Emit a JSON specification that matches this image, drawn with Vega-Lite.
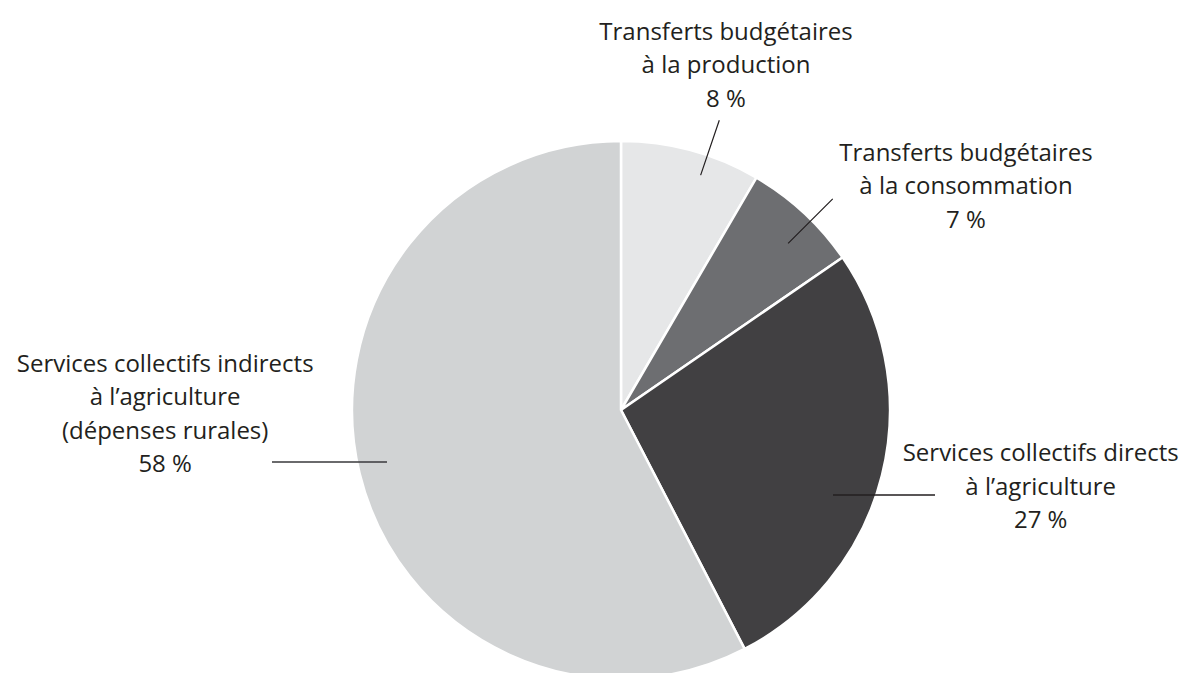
{
  "$schema": "https://vega.github.io/schema/vega-lite/v6.json",
  "width": 1134,
  "height": 526,
  "padding": {"left": 54, "top": 147, "right": 0, "bottom": 0},
  "autosize": {"type": "none"},
  "background": "white",
  "config": {"view": {"stroke": null}},
  "data": {
    "values": [
      {"code": "prod", "categorie": "Transferts budgétaires à la production", "label": "Transferts budgétaires\nà la production\n8 %", "value": 8.4},
      {"code": "conso", "categorie": "Transferts budgétaires à la consommation", "label": "Transferts budgétaires\nà la consommation\n7 %", "value": 7.0},
      {"code": "directs", "categorie": "Services collectifs directs à l’agriculture", "label": "Services collectifs directs\nà l’agriculture\n27 %", "value": 27.0},
      {"code": "indirects", "categorie": "Services collectifs indirects à l’agriculture (dépenses rurales)", "label": "Services collectifs indirects\nà l’agriculture\n(dépenses rurales)\n58 %", "value": 57.6}
    ]
  },
  "transform": [{"stack": "value", "groupby": [], "as": ["start", "end"]}],
  "layer": [
    {
      "mark": {"type": "arc", "outerRadius": 269, "stroke": "white", "strokeWidth": 2.5},
      "encoding": {
        "theta": {"field": "start", "type": "quantitative", "scale": {"domain": [0, 100]}},
        "theta2": {"field": "end"},
        "color": {
          "field": "code", "type": "nominal", "legend": null,
          "scale": {"domain": ["prod", "conso", "directs", "indirects"], "range": ["#e6e7e8", "#6d6e71", "#414042", "#d1d3d4"]}
        }
      }
    },
    {
      "transform": [{"filter": {"field": "code", "equal": "prod"}}],
      "mark": {"type": "arc", "filled": false, "stroke": "#231f20", "strokeWidth": 1.2, "innerRadius": 248, "outerRadius": 306, "thetaOffset": 0.327, "theta2Offset": 0.327},
      "encoding": {
        "theta": {"field": "start", "type": "quantitative", "scale": {"domain": [0, 100]}},
        "theta2": {"field": "start"}
      }
    },
    {
      "transform": [{"filter": {"field": "code", "equal": "conso"}}],
      "mark": {"type": "arc", "filled": false, "stroke": "#231f20", "strokeWidth": 1.2, "innerRadius": 236, "outerRadius": 299, "thetaOffset": 0.259, "theta2Offset": 0.259},
      "encoding": {
        "theta": {"field": "start", "type": "quantitative", "scale": {"domain": [0, 100]}},
        "theta2": {"field": "start"}
      }
    },
    {
      "transform": [{"filter": {"field": "code", "equal": "directs"}}],
      "mark": {"type": "arc", "filled": false, "stroke": "#231f20", "strokeWidth": 1.3, "innerRadius": 212, "outerRadius": 314, "thetaOffset": 0.6032, "theta2Offset": 0.6032, "yOffset": 85},
      "encoding": {
        "theta": {"field": "start", "type": "quantitative", "scale": {"domain": [0, 100]}},
        "theta2": {"field": "start"}
      }
    },
    {
      "transform": [{"filter": {"field": "code", "equal": "indirects"}}],
      "mark": {"type": "arc", "filled": false, "stroke": "#3a3a3c", "strokeWidth": 1.3, "innerRadius": 234, "outerRadius": 349, "thetaOffset": 2.0483, "theta2Offset": 2.0483, "yOffset": 52},
      "encoding": {
        "theta": {"field": "start", "type": "quantitative", "scale": {"domain": [0, 100]}},
        "theta2": {"field": "start"}
      }
    },
    {
      "transform": [{"filter": {"field": "code", "equal": "prod"}}],
      "mark": {"type": "text", "radius": 268, "dx": 105, "dy": -109.5, "align": "center", "baseline": "middle", "lineBreak": "\n", "lineHeight": 33.5, "font": "Open Sans", "fontSize": 24, "fontWeight": 500, "color": "#231f20"},
      "encoding": {
        "theta": {"field": "start", "type": "quantitative", "scale": {"domain": [0, 100]}},
        "text": {"field": "label"}
      }
    },
    {
      "transform": [{"filter": {"field": "code", "equal": "conso"}}],
      "mark": {"type": "text", "radius": 268, "dx": 210, "dy": -24.5, "align": "center", "baseline": "middle", "lineBreak": "\n", "lineHeight": 33.5, "font": "Open Sans", "fontSize": 24, "fontWeight": 500, "color": "#231f20"},
      "encoding": {
        "theta": {"field": "start", "type": "quantitative", "scale": {"domain": [0, 100]}},
        "text": {"field": "label"}
      }
    },
    {
      "transform": [{"filter": {"field": "code", "equal": "directs"}}],
      "mark": {"type": "text", "radius": 268, "dx": 199, "dy": 196.5, "align": "center", "baseline": "middle", "lineBreak": "\n", "lineHeight": 33.5, "font": "Open Sans", "fontSize": 24, "fontWeight": 500, "color": "#231f20"},
      "encoding": {
        "theta": {"field": "start", "type": "quantitative", "scale": {"domain": [0, 100]}},
        "text": {"field": "label"}
      }
    },
    {
      "transform": [{"filter": {"field": "code", "equal": "indirects"}}],
      "mark": {"type": "text", "radius": 268, "dx": -579, "dy": -283.25, "align": "center", "baseline": "middle", "lineBreak": "\n", "lineHeight": 33.5, "font": "Open Sans", "fontSize": 24, "fontWeight": 500, "color": "#231f20"},
      "encoding": {
        "theta": {"field": "start", "type": "quantitative", "scale": {"domain": [0, 100]}},
        "text": {"field": "label"}
      }
    }
  ]
}
